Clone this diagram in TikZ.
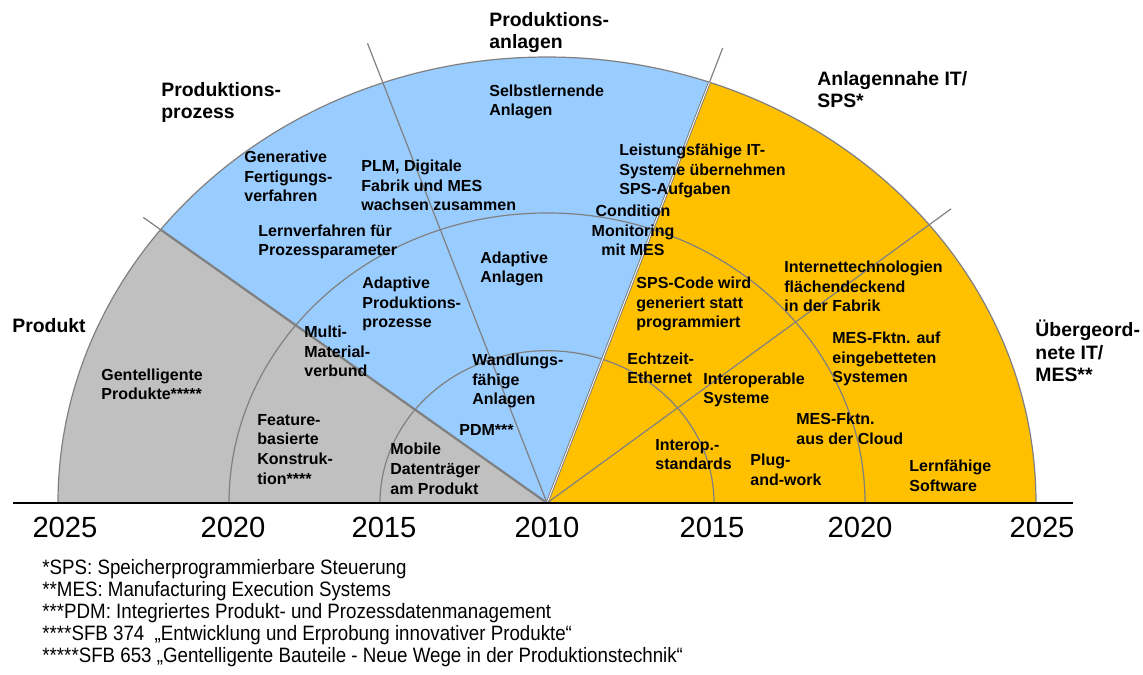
\documentclass[tikz,border=0pt]{standalone}
\usepackage{fontspec}
\setmainfont{Liberation Sans}
\newfontfamily\narrowfont[FakeStretch=0.9]{Liberation Sans}
\definecolor{prodgray}{HTML}{C0C0C0}
\definecolor{procblue}{HTML}{99CCFF}
\definecolor{itorange}{HTML}{FFC000}
\definecolor{rimgray}{HTML}{808080}

\begin{document}
\begin{tikzpicture}[x=0.5pt,y=0.5pt,
  rim/.style={rimgray,line width=0.6pt},
  head/.style={font=\fontsize{9.7}{11.3}\selectfont\bfseries,align=left,anchor=base west,inner sep=0pt},
  item/.style={font=\fontsize{8}{9.8}\selectfont\bfseries,align=left,anchor=base west,inner sep=0pt},
  year/.style={font=\fontsize{14.6}{16}\selectfont,anchor=base,inner sep=0pt},
  note/.style={font=\narrowfont\fontsize{10.4}{10.9}\selectfont,align=left,anchor=base west,inner sep=0pt}]
\useasboundingbox (-547,-171) rectangle (596,503);
\begin{scope}[yscale=0.912]
\coordinate (ctr) at (0,0);
\coordinate (gend) at (142.2:511);
\coordinate (lend) at (109.6:535);
\coordinate (yend) at (70.6:529);
\coordinate (rend) at (38.6:517);
\fill [prodgray] (ctr) -- (180:489) arc[start angle=180,end angle=142.2,radius=489] -- cycle;
\fill [procblue] (ctr) -- (142.2:489) arc[start angle=142.2,end angle=70.6,radius=489] -- cycle;
\fill [itorange] (ctr) -- (70.6:489) arc[start angle=70.6,end angle=0,radius=489] -- cycle;
\draw [rim] (180:167) arc[start angle=180,end angle=0,radius=167];
\draw [rim] (180:318) arc[start angle=180,end angle=0,radius=318];
\draw [rim] (180:489) arc[start angle=180,end angle=0,radius=489];
\draw [rim] (ctr) -- (gend);
\draw [rimgray,line width=1.1pt] (ctr) -- (142.2:489);
\draw [rim] (ctr) -- (lend);
\draw [rim] (ctr) -- (yend);
\draw [rimgray,line width=0.5pt,double=white,double distance=0.4pt] (ctr) -- (70.6:489);
\draw [rim] (ctr) -- (rend);
\end{scope}
\coordinate (axl) at (-534,0);
\coordinate (axr) at (526,0);
\draw [black,line width=1pt] (axl) -- (axr);

\node[head] (hprozess) at (-386,384) {Produktions-\\prozess};
\node[head] (hanlagen) at (-58,454) {Produktions-\\anlagen};
\node[head] (hsps) at (270,395) {Anlagennahe IT/\\SPS*};
\node[head] (hprodukt) at (-535,170) {Produkt};
\node[head] (hmes) at (488,121) {Übergeord-\\nete IT/\\MES**};

\node[item] (generativ) at (-303,301) {Generative\\Fertigungs-\\verfahren};
\node[item] (plm) at (-186,292) {PLM, Digitale\\Fabrik und MES\\wachsen zusammen};
\node[item] (lernverf) at (-289,247) {Lernverfahren für\\Prozessparameter};
\node[item] (selbstl) at (-58,387) {Selbstlernende\\Anlagen};
\node[item] (leistung) at (72,308) {Leistungsfähige IT-\\Systeme übernehmen\\SPS-Aufgaben};
\node[item,align=center,anchor=base] (condmon) at (86,247) {Condition\\Monitoring\\mit MES};
\node[item] (adanl) at (-67,220) {Adaptive\\Anlagen};
\node[item] (adproz) at (-185,175) {Adaptive\\Produktions-\\prozesse};
\node[item] (multi) at (-243,126) {Multi-\\Material-\\verbund};
\node[item] (gentell) at (-446,103) {Gentelligente\\Produkte*****};
\node[item] (feature) at (-290,19) {Feature-\\basierte\\Konstruk-\\tion****};
\node[item] (mobile) at (-157,9) {Mobile\\Datenträger\\am Produkt};
\node[item] (wandl) at (-75,98) {Wandlungs-\\fähige\\Anlagen};
\node[item] (pdm) at (-88,68) {PDM***};
\node[item] (spscode) at (89,175) {SPS-Code wird\\generiert statt\\programmiert};
\node[item] (echtzeit) at (80,119) {Echtzeit-\\Ethernet};
\node[item] (interop) at (156,99) {Interoperable\\Systeme};
\node[item] (interstd) at (108,33) {Interop.-\\standards};
\node[item] (plug) at (203,18) {Plug-\\and-work};
\node[item] (internet) at (237,191) {Internettechnologien\\flächendeckend\\in der Fabrik};
\node[item] (mesauf) at (285,120) {MES-Fktn. auf\\eingebetteten\\Systemen};
\node[item] (mescloud) at (249,59) {MES-Fktn.\\aus der Cloud};
\node[item] (lernsw) at (362,12) {Lernfähige\\Software};

\node[year] (y25l) at (-482,-34) {2025};
\node[year] (y20l) at (-314,-34) {2020};
\node[year] (y15l) at (-163,-34) {2015};
\node[year] (y10) at (0,-34) {2010};
\node[year] (y15r) at (165,-34) {2015};
\node[year] (y20r) at (313,-34) {2020};
\node[year] (y25r) at (495,-34) {2025};

\node[note] (notes) at (-505,-159) {*SPS: Speicherprogrammierbare Steuerung\\**MES: Manufacturing Execution Systems\\***PDM: Integriertes Produkt- und Prozessdatenmanagement\\****SFB 374\ \ „Entwicklung und Erprobung innovativer Produkte“\\*****SFB 653 „Gentelligente Bauteile - Neue Wege in der Produktionstechnik“};
\end{tikzpicture}
\end{document}
